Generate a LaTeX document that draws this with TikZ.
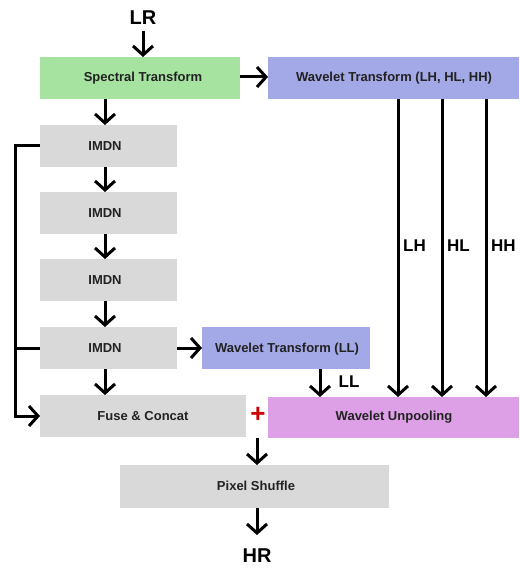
\documentclass[tikz,border=0pt]{standalone}
\usepackage{fontspec}
\setmainfont{Liberation Sans}
\usetikzlibrary{arrows.meta}
\definecolor{boxgray}{HTML}{D9D9D9}
\definecolor{boxgreen}{HTML}{A6E3A1}
\definecolor{boxblue}{HTML}{A3A8E6}
\definecolor{boxpink}{HTML}{DDA0E6}
\definecolor{txt}{HTML}{222222}
\begin{document}
\begin{tikzpicture}[x=1pt,y=-1pt,
  blk/.style={draw=none,inner sep=0pt,font=\bfseries\fontsize{13}{15}\selectfont,text=txt},
  big/.style={font=\bfseries\fontsize{20}{22}\selectfont,text=black,inner sep=0pt},
  lbl/.style={font=\bfseries\fontsize{17}{19}\selectfont,text=black,inner sep=0pt},
  arr/.style={line width=3pt,-{Straight Barb[length=9pt,width=20pt,line width=3pt]}},
  ln/.style={line width=3pt}]
\useasboundingbox (0,0) rectangle (519,569);
% boxes
\fill[boxgreen] (40,57) rectangle (240,99);
\node[blk] (spec) at (143,78) {Spectral Transform};
\coordinate (specS) at (105,99);
\fill[boxblue] (268,57) rectangle (519,99);
\node[blk] (wt) at (394,78) {Wavelet Transform (LH, HL, HH)};
\foreach \i/\y in {1/125,2/192,3/259,4/327}{
  \fill[boxgray] (40,\y) rectangle (177,\y+42);
  \node[blk] (imdn\i) at (105,\y+21) {IMDN};
  \coordinate (imdn\i T) at (105,\y);
  \coordinate (imdn\i B) at (105,\y+42);
  \coordinate (imdn\i L) at (40,\y+21);
  \coordinate (imdn\i R) at (177,\y+21);
}
\fill[boxblue] (202,327) rectangle (370,369);
\node[blk] (wll) at (287,349) {Wavelet Transform (LL)};
\fill[boxgray] (40,395) rectangle (246,437);
\node[blk] (fuse) at (143,416) {Fuse \& Concat};
\fill[boxpink] (268,397) rectangle (519,438);
\node[blk] (unp) at (394,417) {Wavelet Unpooling};
\fill[boxgray] (120,465) rectangle (389,508);
\node[blk] (ps) at (256,486) {Pixel Shuffle};
\node[big] (lr) at (143,18) {LR};
\node[big] (hr) at (257,556) {HR};
\node[font=\bfseries\fontsize{26}{26}\selectfont,text=red!80!black,inner sep=0pt] (plus) at (258,415) {+};
% arrows
\draw[arr] (143,31) -- (143,57);
\draw[arr] (240,77) -- (268,77);
\draw[arr] (specS) -- (imdn1T);
\draw[arr] (imdn1B) -- (imdn2T);
\draw[arr] (imdn2B) -- (imdn3T);
\draw[arr] (imdn3B) -- (imdn4T);
\draw[arr] (imdn4B) -- (105,395);
\draw[arr] (imdn4R) -- (202,348);
\draw[ln] (imdn1L) -- (15,146);
\draw[ln] (imdn4L) -- (15,348);
\draw[arr] (15,144.5) -- (15,416) -- (40,416);
\draw[arr] (320,369) -- (320,397);
\node[lbl] (ll) at (349,382) {LL};
\foreach \x/\t in {398/LH,442/HL,486/HH}{
  \draw[arr] (\x,99) -- (\x,397);
  \node[lbl,anchor=west] at (\x+5,246) {\t};
}
\draw[arr] (257,438) -- (257,465);
\draw[arr] (257,508) -- (257,535);
\end{tikzpicture}
\end{document}
